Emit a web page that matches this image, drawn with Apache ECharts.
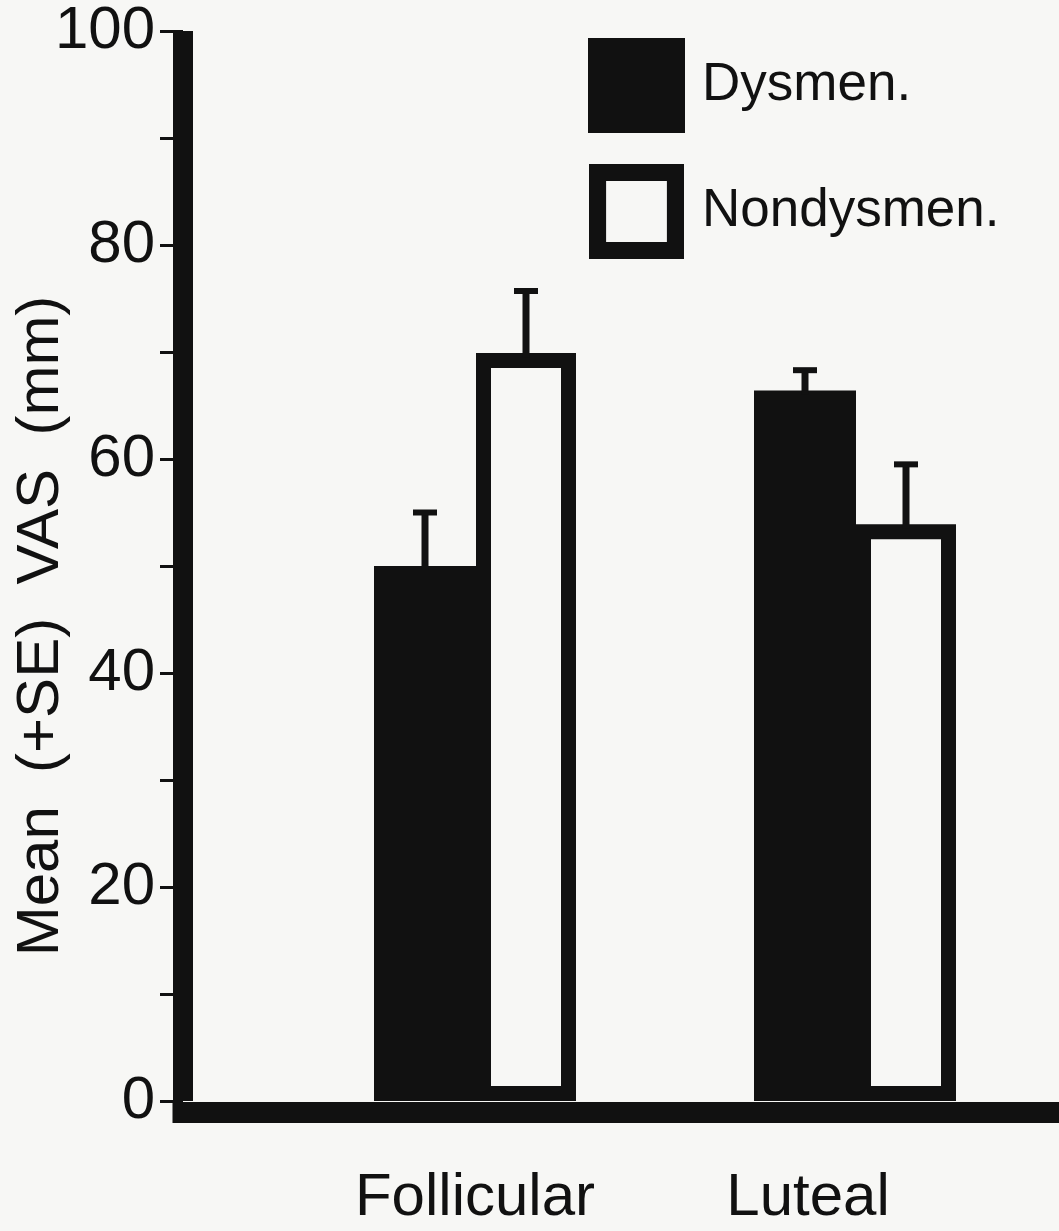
<!DOCTYPE html>
<html>
<head>
<meta charset="utf-8">
<title>Mean VAS by cycle phase</title>
<script src="https://cdn.jsdelivr.net/npm/echarts@6.0.0/dist/echarts.min.js"></script>
<style>
    html, body { margin: 0; padding: 0; background: #f7f7f5; }
    #chart { width: 1059px; height: 1231px; }
</style>
</head>
<body>
<div id="chart"></div>
<script>
// data
const phases = ['Follicular', 'Luteal'];
const groups = ['Dysmen.', 'Nondysmen.'];
const dysmenMean = [50.0, 66.4];
const dysmenSE = [5.0, 1.9];
const nondysmenMean = [69.9, 53.9];
const nondysmenSE = [5.8, 5.6];
const yLabelTicks = [0, 20, 40, 60, 80, 100];

const ink = '#111';
const paper = '#f7f7f5';
const font = 'Liberation Sans';
const barWidths = [102, 100];

// centre of each bar inside its category band
const barOffsets = [];
(function () {
    let acc = -(barWidths[0] + barWidths[1]) / 2;
    barWidths.forEach(function (w) {
        barOffsets.push(acc + w / 2);
        acc += w;
    });
})();

const errData = [];
phases.forEach(function (p, i) {
    errData.push([i, dysmenMean[i], dysmenSE[i], 0]);
    errData.push([i, nondysmenMean[i], nondysmenSE[i], 1]);
});

function renderErr(params, api) {
    const cat = api.value(0);
    const mean = api.value(1);
    const se = api.value(2);
    const g = api.value(3);
    const base = api.coord([cat, mean]);
    const top = api.coord([cat, mean + se]);
    const x = base[0] + barOffsets[g];
    return {
        type: 'group',
        children: [
            { type: 'line', shape: { x1: x, y1: base[1] + 4, x2: x, y2: top[1] }, style: { stroke: ink, lineWidth: 7 } },
            { type: 'line', shape: { x1: x - 12, y1: top[1], x2: x + 12, y2: top[1] }, style: { stroke: ink, lineWidth: 6 } }
        ]
    };
}

const ringIcon = 'path://M0,0L100,0L100,100L0,100Z M18,18L18,82L82,82L82,18Z';

let myChart = echarts.init(document.getElementById('chart'), null, { renderer: 'canvas' });
myChart.setOption({
    backgroundColor: paper,
    animation: false,
    legend: {
        orient: 'vertical',
        left: 583,
        top: 33,
        itemWidth: 97,
        itemHeight: 95,
        itemGap: 31,
        selectedMode: false,
        itemStyle: { borderWidth: 0 },
        textStyle: { fontFamily: font, fontSize: 53, color: ink, padding: [0, 0, 0, 12] },
        data: [
            { name: groups[0], icon: 'rect' },
            { name: groups[1], icon: ringIcon, itemStyle: { color: ink, borderWidth: 0 } }
        ]
    },
    grid: [
        // bars
        { left: 285, right: 14, top: 31, bottom: 130, outerBoundsMode: 'none', containLabel: false },
        // axes frame
        { left: 183, right: 0, top: 31, bottom: 130, outerBoundsMode: 'none', containLabel: false }
    ],
    xAxis: [{
        type: 'category',
        gridIndex: 0,
        data: phases,
        axisLine: { show: false },
        axisTick: { show: false },
        axisLabel: {
            margin: 67,
            fontFamily: font,
            fontSize: 60,
            color: ink,
            formatter: function (v) {
                return v === phases[1] ? '{s|' + v + '}' : v;
            },
            rich: {
                s: { fontFamily: font, fontSize: 60, color: ink, padding: [0, 94, 0, 0] }
            }
        }
    }, {
        type: 'value',
        gridIndex: 1,
        min: 0,
        max: 1,
        offset: 11,
        axisLine: { show: true, onZero: false, lineStyle: { color: ink, width: 21, cap: 'square' } },
        axisTick: { show: false },
        axisLabel: { show: false },
        splitLine: { show: false }
    }],
    yAxis: [{
        type: 'value',
        gridIndex: 0,
        min: 0,
        max: 100,
        show: false
    }, {
        type: 'value',
        gridIndex: 1,
        min: 0,
        max: 100,
        interval: 10,
        name: 'Mean  (+SE)  VAS  (mm)',
        nameLocation: 'middle',
        nameGap: 112,
        nameMoveOverlap: false,
        nameTextStyle: { fontFamily: font, fontSize: 60, color: ink, padding: [0, 120, 0, 0] },
        axisLine: { show: true, onZero: false, lineStyle: { color: ink, width: 20, cap: 'butt' } },
        axisTick: { show: true, length: 23, lineStyle: { color: ink, width: 3 } },
        axisLabel: {
            margin: 28,
            fontFamily: font,
            fontSize: 60,
            color: ink,
            formatter: function (v) {
                return yLabelTicks.indexOf(v) >= 0 ? String(v) : '';
            }
        },
        splitLine: { show: false }
    }],
    series: [{
        name: groups[0],
        type: 'bar',
        xAxisIndex: 0,
        yAxisIndex: 0,
        barWidth: barWidths[0],
        barGap: '0%',
        data: dysmenMean,
        itemStyle: { color: ink },
        z: 3
    }, {
        name: groups[1],
        type: 'bar',
        xAxisIndex: 0,
        yAxisIndex: 0,
        barWidth: barWidths[1],
        barGap: '0%',
        data: nondysmenMean,
        itemStyle: { color: paper, borderColor: ink, borderWidth: 15 },
        z: 4
    }, {
        name: 'SE',
        type: 'custom',
        xAxisIndex: 0,
        yAxisIndex: 0,
        renderItem: renderErr,
        encode: { x: 0, y: 1 },
        data: errData,
        z: 5
    }]
});
</script>
</body>
</html>
